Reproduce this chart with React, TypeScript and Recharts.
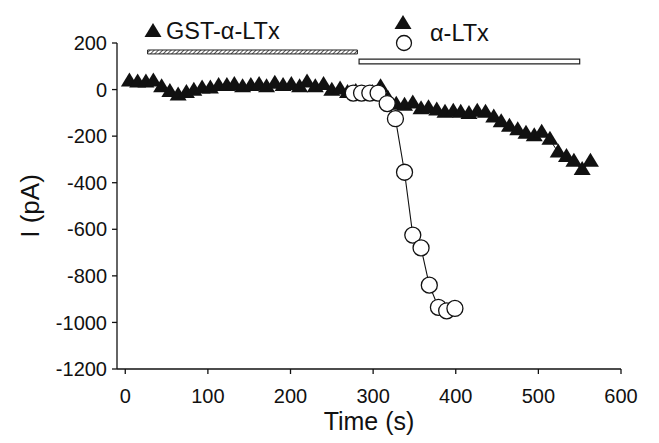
import React from 'react';
import { ComposedChart, Scatter, XAxis, YAxis, ReferenceArea } from 'recharts';

// GST-α-LTx (filled triangles)
const gstTime = [
  5, 15, 25, 34, 44, 54, 64, 74, 83, 93, 103, 113, 123, 132, 142, 152, 162, 171, 181, 191,
  201, 211, 220, 230, 240, 250, 260, 269, 279, 289, 299, 309, 318, 328, 338, 348, 358, 367, 377, 387,
  397, 406, 416, 426, 436, 446, 455, 465, 475, 485, 495, 504, 514, 524, 534, 543, 553, 563,
];
const gstCurrent = [
  35, 30, 30, 35, 10, -10, -25, -15, -5, 5, 5, 15, 15, 20, 10, 15, 20, 10, 25, 15,
  20, 10, 30, 10, 20, -5, 0, -15, -10, -20, -15, 10, -40, -65, -70, -60, -85, -80, -90, -100,
  -95, -100, -105, -95, -100, -120, -140, -160, -175, -190, -200, -185, -215, -270, -290, -310, -345, -310,
];

// α-LTx (open circles)
const ltxTime = [276, 286, 296, 306, 317, 327, 338, 348, 358, 368, 379, 389, 399];
const ltxCurrent = [-15, -15, -15, -15, -60, -125, -355, -625, -680, -840, -935, -950, -940];

// application periods (s)
const gstPeriod = [27, 281];
const ltxPeriod = [283, 550];

const xTicks = [0, 100, 200, 300, 400, 500, 600];
const yTicks = [-1200, -1000, -800, -600, -400, -200, 0, 200];

const FONT = '"Liberation Sans", Arial, sans-serif';

const gstData = gstTime.map((t, i) => ({ t, i: gstCurrent[i] }));
const ltxData = ltxTime.map((t, i) => ({ t, i: ltxCurrent[i] }));

const Triangle = (props: any) => {
  const { cx, cy } = props;
  if (cx == null || cy == null) return null;
  return <path d={`M${cx},${cy - 9}L${cx + 8.5},${cy + 5}L${cx - 8.5},${cy + 5}Z`} fill="#111" />;
};

const Circle = (props: any) => {
  const { cx, cy } = props;
  if (cx == null || cy == null) return null;
  return <circle cx={cx} cy={cy} r={8} fill="#fff" stroke="#111" strokeWidth={1.3} />;
};

export default function App() {
  return (
    <div style={{ position: 'absolute', left: 0, top: 0, width: 659, height: 443, background: '#fff', fontFamily: FONT }}>
      <ComposedChart width={659} height={443} margin={{ top: 43, right: 38, bottom: 44, left: 0 }}>
        <defs>
          <pattern id="hatch" width="3" height="3" patternUnits="userSpaceOnUse" patternTransform="rotate(45)">
            <rect width="3" height="3" fill="#fff" />
            <line x1="0" y1="0" x2="0" y2="3" stroke="#555" strokeWidth="2" />
          </pattern>
        </defs>
        <XAxis
          type="number"
          dataKey="t"
          domain={[-10, 600]}
          ticks={xTicks}
          allowDataOverflow
          height={30}
          tickSize={5}
          tickMargin={15}
          stroke="#111"
          strokeWidth={1.3}
          tick={{ fill: '#111', fontSize: 20, fontFamily: FONT }}
          label={{ value: 'Time (s)', position: 'bottom', offset: 13, fill: '#111', fontSize: 25, fontFamily: FONT }}
        />
        <YAxis
          type="number"
          dataKey="i"
          domain={[-1200, 200]}
          ticks={yTicks}
          allowDataOverflow
          width={117}
          tickSize={5}
          tickMargin={5}
          stroke="#111"
          strokeWidth={1.3}
          tick={{ fill: '#111', fontSize: 20, fontFamily: FONT }}
          label={{
            content: (p: any) => {
              const vb = p.viewBox || {};
              const x = 30;
              const y = (vb.y ?? 43) + (vb.height ?? 326) / 2;
              return (
                <text x={x} y={y} transform={`rotate(-90 ${x} ${y})`} textAnchor="middle" dominantBaseline="central" fontSize={26} fontFamily={FONT} fill="#111">
                  I (pA)
                </text>
              );
            },
          }}
        />
        <ReferenceArea x1={gstPeriod[0]} x2={gstPeriod[1]} y1={153} y2={170} fill="url(#hatch)" fillOpacity={1} stroke="#222" strokeWidth={1} />
        <ReferenceArea x1={ltxPeriod[0]} x2={ltxPeriod[1]} y1={110} y2={131} fill="#fff" fillOpacity={1} stroke="#222" strokeWidth={1.2} />
        <Scatter
          name="GST-α-LTx"
          data={gstData}
          shape={Triangle}
          line={{ stroke: '#111', strokeWidth: 1 }}
          lineType="joint"
          isAnimationActive={false}
        />
        <Scatter
          name="α-LTx"
          data={ltxData}
          shape={Circle}
          line={{ stroke: '#111', strokeWidth: 1.1 }}
          lineType="joint"
          isAnimationActive={false}
        />
      </ComposedChart>
      <svg width={659} height={60} style={{ position: 'absolute', left: 0, top: 0 }}>
        <path d="M153,23L161.5,37L144.5,37Z" fill="#111" />
        <text x={166} y={39} fontSize={23.5} fontFamily={FONT} fill="#111">GST-α-LTx</text>
        <path d="M403,15L411.5,29L394.5,29Z" fill="#111" />
        <circle cx={404} cy={43} r={7.5} fill="#fff" stroke="#111" strokeWidth={1.3} />
        <text x={430} y={41} fontSize={23.5} fontFamily={FONT} fill="#111">α-LTx</text>
      </svg>
    </div>
  );
}
